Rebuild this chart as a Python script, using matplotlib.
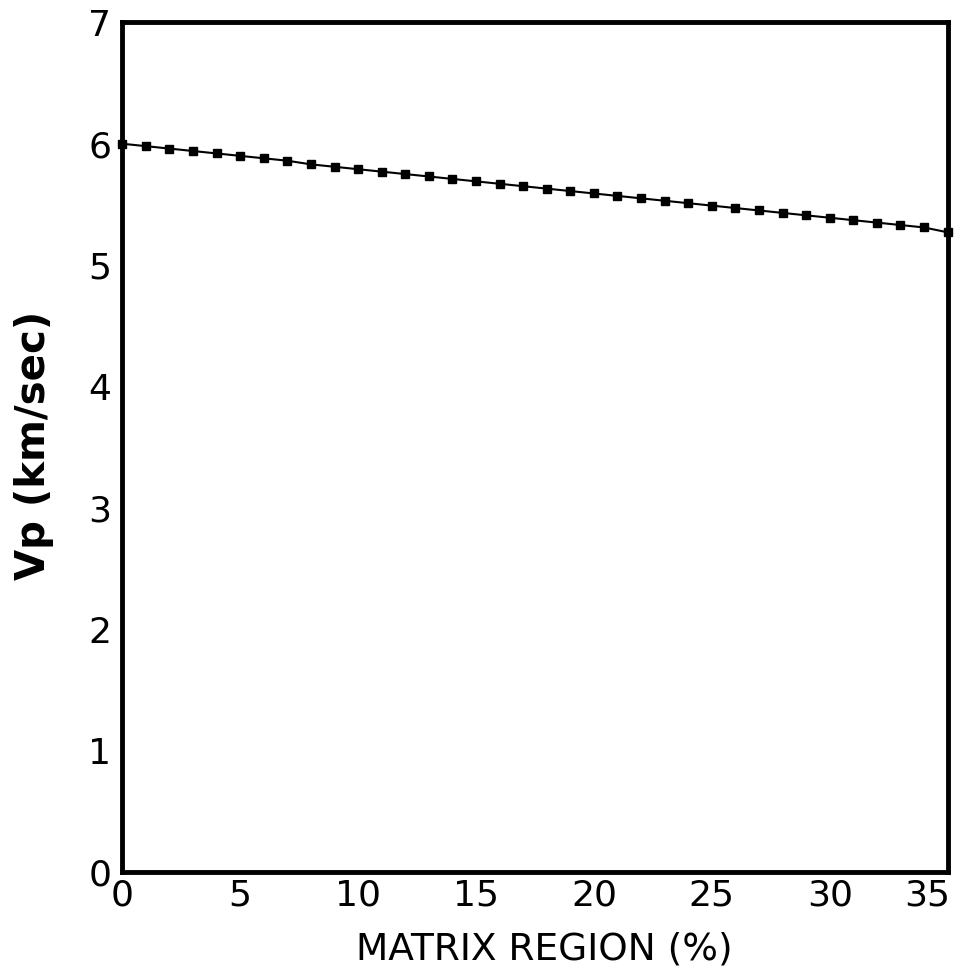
import matplotlib
matplotlib.use("Agg")
import matplotlib.pyplot as plt
from matplotlib.transforms import ScaledTranslation

plt.rcParams['font.family'] = ['DejaVu Sans']

matrix_pct = list(range(0, 36))
vp = [6.00, 5.98, 5.96, 5.94, 5.92, 5.90, 5.88, 5.86, 5.83, 5.81,
      5.79, 5.77, 5.75, 5.73, 5.71, 5.69, 5.67, 5.65, 5.63, 5.61,
      5.59, 5.57, 5.55, 5.53, 5.51, 5.49, 5.47, 5.45, 5.43, 5.41,
      5.39, 5.37, 5.35, 5.33, 5.31, 5.27]
xticks = [0, 5, 10, 15, 20, 25, 30, 35]
yticks = [0, 1, 2, 3, 4, 5, 6, 7]

fig = plt.figure(figsize=(9.63, 9.74), dpi=100)
ax = fig.add_axes([0.127, 0.105, 0.857, 0.872])
ax.plot(matrix_pct, vp, color='black', lw=1.5, marker='s', markersize=6,
        markerfacecolor='black', markeredgecolor='black', clip_on=False)
ax.set_xlim(0, 35)
ax.set_ylim(0, 7)
ax.set_xticks(xticks)
ax.set_yticks(yticks)
ax.set_xticklabels([str(t) for t in xticks])
ax.set_yticklabels([str(t) for t in yticks])
ax.tick_params(length=0, labelsize=26, pad=5)
ax.tick_params(axis='y', pad=8)
labels = ax.get_xticklabels()
labels[-1].set_transform(labels[-1].get_transform() + ScaledTranslation(-0.2, 0, fig.dpi_scale_trans))
for s in ax.spines.values():
    s.set_linewidth(3.5)
fig.text(0.565, 0.025, 'MATRIX REGION (%)', fontsize=27, ha='center', va='center')
fig.text(0.035, 0.543, 'Vp (km/sec)', fontsize=29, fontweight='bold', rotation=90,
         ha='center', va='center')
fig.savefig('out.png', dpi=100, facecolor='white')
